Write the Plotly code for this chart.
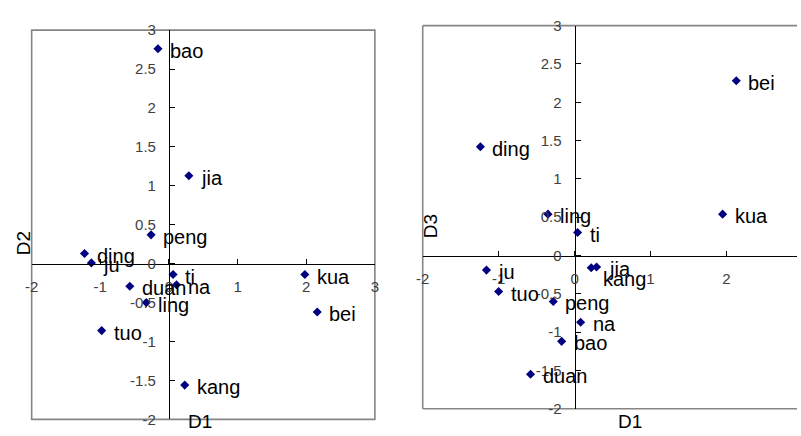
import plotly.graph_objects as go

# ---- data ----
names_left = ["bao", "jia", "peng", "ding", "ju", "ti", "na", "duan", "ling", "tuo", "kang", "kua", "bei"]
d1_left = [-0.16, 0.29, -0.26, -1.23, -1.13, 0.06, 0.11, -0.57, -0.33, -0.98, 0.23, 1.98, 2.16]
d2_left = [2.76, 1.13, 0.37, 0.13, 0.01, -0.14, -0.27, -0.29, -0.50, -0.86, -1.56, -0.14, -0.62]

names_right = ["bei", "ding", "ling", "kua", "ti", "jia", "kang", "ju", "tuo", "peng", "na", "bao", "duan"]
d1_right = [2.13, -1.24, -0.35, 1.95, 0.04, 0.29, 0.22, -1.16, -1.00, -0.28, 0.08, -0.17, -0.58]
d3_right = [2.28, 1.42, 0.54, 0.54, 0.30, -0.15, -0.16, -0.19, -0.47, -0.60, -0.87, -1.12, -1.55]

x_ticks = [-2, -1, 0, 1, 2, 3]
x_ticktext = ["-2", "-1", "0", "1", "2", "3"]
y_ticks = [-2, -1.5, -1, -0.5, 0, 0.5, 1, 1.5, 2, 2.5, 3]
y_ticktext = ["-2", "-1.5", "-1", "-0.5", "0", "0.5", "1", "1.5", "2", "2.5", "3"]

# ---- layout geometry ----
W, H = 801, 436
FONT = "Arial, Liberation Sans, sans-serif"
MARKER = "#000080"

xr1 = [-2, 3]
yr1 = [-2, 3]
xd1 = [25 / W, 373 / W]
yd1 = [1 - 427 / H, 1 - 22 / H]

xr2 = [-2, 2.93]
yr2 = [-2, 3]
xd2 = [421.5 / W, 1.0]
yd2 = [1 - 416 / H, 1 - 17.3 / H]


def zero_pos(rng, dom):
    return dom[0] + (0 - rng[0]) / (rng[1] - rng[0]) * (dom[1] - dom[0])


fig = go.Figure()
fig.add_trace(go.Scatter(x=d1_left, y=d2_left, mode="markers", xaxis="x", yaxis="y",
                         marker=dict(symbol="diamond", size=7, color=MARKER)))
fig.add_trace(go.Scatter(x=d1_right, y=d3_right, mode="markers", xaxis="x2", yaxis="y2",
                         marker=dict(symbol="diamond", size=7, color=MARKER)))

annotations = []
for n, x, y in zip(names_left, d1_left, d2_left):
    annotations.append(dict(x=x, y=y, xref="x", yref="y", text=n, showarrow=False,
                            xanchor="left", yanchor="middle", xshift=10, yshift=-2,
                            font=dict(family=FONT, size=20, color="black")))
for n, x, y in zip(names_right, d1_right, d3_right):
    ys = -11 if n == "kang" else -2
    annotations.append(dict(x=x, y=y, xref="x2", yref="y2", text=n, showarrow=False,
                            xanchor="left", yanchor="middle", xshift=10, yshift=ys,
                            font=dict(family=FONT, size=20, color="black")))

title_font = dict(family=FONT, size=19, color="black")
annotations += [
    dict(x=17 / W, y=1 - 244 / H, xref="paper", yref="paper", text="D2", textangle=-90,
         showarrow=False, xanchor="center", yanchor="middle", font=title_font),
    dict(x=196 / W, y=1 - 429 / H, xref="paper", yref="paper", text="D1",
         showarrow=False, xanchor="center", yanchor="middle", font=title_font),
    dict(x=429 / W, y=1 - 226 / H, xref="paper", yref="paper", text="D3", textangle=-90,
         showarrow=False, xanchor="center", yanchor="middle", font=title_font),
    dict(x=632 / W, y=1 - 429 / H, xref="paper", yref="paper", text="D1",
         showarrow=False, xanchor="center", yanchor="middle", font=title_font),
]

tick_font = dict(family=FONT, size=15, color="#404040")
common = dict(showgrid=False, zeroline=False, showline=True, linecolor="black", linewidth=1,
              ticks="inside", ticklen=5, tickwidth=1, tickcolor="black", tickfont=tick_font,
              anchor="free", fixedrange=True)

shape_line = dict(color="#858585", width=1.6)
shapes = [
    dict(type="rect", xref="x domain", yref="y domain", x0=0, x1=1, y0=0, y1=1,
         line=shape_line, layer="below"),
    dict(type="line", xref="x2 domain", yref="y2 domain", x0=0, x1=0, y0=0, y1=1, line=shape_line, layer="below"),
    dict(type="line", xref="x2 domain", yref="y2 domain", x0=0, x1=1, y0=1, y1=1, line=shape_line, layer="below"),
    dict(type="line", xref="x2 domain", yref="y2 domain", x0=0, x1=1, y0=0, y1=0, line=shape_line, layer="below"),
]

fig.update_layout(
    width=W, height=H, margin=dict(l=0, r=0, t=0, b=0),
    paper_bgcolor="white", plot_bgcolor="white", showlegend=False,
    xaxis=dict(domain=xd1, range=xr1, position=zero_pos(yr1, yd1), side="bottom",
               tickvals=x_ticks, ticktext=x_ticktext, ticklabelstandoff=9, **common),
    yaxis=dict(domain=yd1, range=yr1, position=zero_pos(xr1, xd1), side="left",
               tickvals=y_ticks, ticktext=y_ticktext, ticklabelstandoff=10, **common),
    xaxis2=dict(domain=xd2, range=xr2, position=zero_pos(yr2, yd2), side="bottom",
                tickvals=x_ticks, ticktext=x_ticktext, ticklabelstandoff=9, **common),
    yaxis2=dict(domain=yd2, range=yr2, position=zero_pos(xr2, xd2), side="left",
                tickvals=y_ticks, ticktext=y_ticktext, ticklabelstandoff=10, **common),
    annotations=annotations, shapes=shapes,
)

fig.write_html("out.html", config={"displayModeBar": False},
               post_script="document.body.style.margin='0';document.body.style.overflow='hidden';")
